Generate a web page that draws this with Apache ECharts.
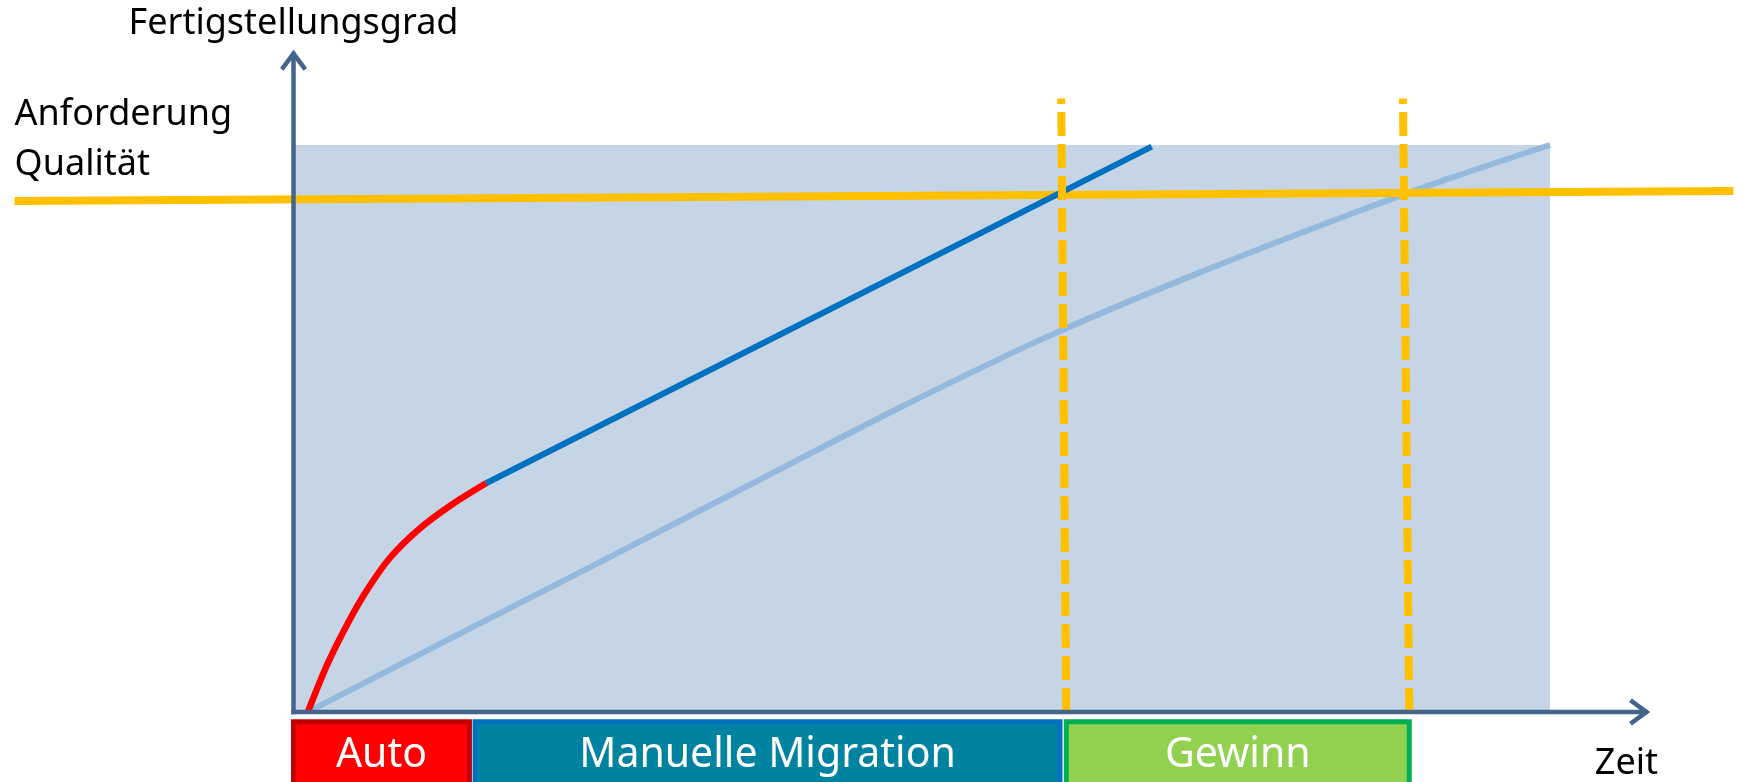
<!DOCTYPE html>
<html>
<head>
<meta charset="utf-8">
<script src="https://cdn.jsdelivr.net/npm/echarts@6/dist/echarts.min.js"></script>
<style>
html,body{margin:0;padding:0;background:#fff;}
#c{width:1743px;height:782px;}
</style>
</head>
<body>
<div id="c"></div>
<script>
// ---- data (x: Zeit, 0..100 = frame; y: Fertigstellungsgrad, 0..100 = frame) ----
const frameX = [0, 100];
const frameY = [0, 100];
const requirementX = [-22.2, 114.6];
const requirementY = [90.1, 91.9];
const autoX = [1.15, 2.67, 4.26, 5.85, 7.68, 10.07, 12.61, 15.32];
const autoY = [0.05, 8.3, 15.4, 21.5, 27.2, 32.4, 36.6, 40.34];
const manualX = [15.32, 68.3];
const manualY = [40.34, 99.7];
const baselineX = [1.5, 12, 24, 36, 48, 60, 72, 84, 92, 100];
const baselineY = [0.4, 12.4, 26.0, 39.7, 53.4, 66.2, 77.4, 87.7, 94.1, 100];
const gate1X = [61.5, 61.1];
const gate2X = [88.8, 88.3];
const gateY = [0, 108.2];
const phaseNames = ['Auto', 'Manuelle Migration', 'Gewinn'];
const phaseStart = [0, 14.45, 61.5];
const phaseEnd = [14.0, 61.0, 88.8];
const phaseFill = ['#FF0000', '#0083A0', '#92D050'];
const phaseStroke = ['#C00000', '#0070C0', '#00B050'];
// axis extents in data units: visible arrow tips and the full view window
const xTip = 108.09;
const yTip = 117.05;
const xView = [-23.36, 115.36];
const yView = [-12.35, 125.57];

const zip = (xs, ys) => xs.map((x, i) => [x, ys[i]]);
const FONT = '"Noto Sans", sans-serif';
const axisColor = '#44648C';
const chevron = 'path://M13,0 L26,20 L22.6,23 L13,8.6 L3.4,23 L0,20 Z';
const ARROW = [27, 23.9];
const ARROW_BACK = 5.7; // px between line end and arrow centre

const chart = echarts.init(document.getElementById('c'));

// line end sits a little behind the tip so the chevron covers it
const xLineEnd = xTip - 6.25 / 12.565;
const yLineEnd = yTip - 6.25 / 5.670;

function axisSeries(points, rotate, offset) {
  return {
    type: 'line', z: 10, silent: true, clip: false, showSymbol: true,
    symbolKeepAspect: true,
    itemStyle: {color: axisColor, opacity: 1},
    lineStyle: {color: axisColor, width: 4.5, cap: 'square'},
    data: [
      {value: points[0], symbol: 'none'},
      {value: points[1], symbol: chevron, symbolSize: ARROW, symbolRotate: rotate, symbolOffset: offset}
    ]
  };
}

const option = {
  animation: false,
  grid: {left: 0, right: 0, top: 0, bottom: 0, containLabel: false, outerBoundsMode: 'none'},
  xAxis: {type: 'value', show: false, min: xView[0], max: xView[1]},
  yAxis: {type: 'value', show: false, min: yView[0], max: yView[1]},
  series: [
    {
      type: 'custom', z: 1, silent: true, clip: false,
      data: [[frameX[0], frameY[0], frameX[1], frameY[1]]],
      renderItem: function (params, api) {
        const p0 = api.coord([api.value(0), api.value(1)]);
        const p1 = api.coord([api.value(2), api.value(3)]);
        return {type: 'rect', shape: {x: p0[0], y: p1[1], width: p1[0] - p0[0], height: p0[1] - p1[1]},
          style: {fill: '#C5D5E6'}};
      }
    },
    {
      type: 'line', z: 3, silent: true, clip: false, showSymbol: false,
      smooth: 0.3,
      data: zip(baselineX, baselineY),
      lineStyle: {color: '#95B9DC', width: 6}
    },
    {
      type: 'line', z: 4, silent: true, clip: false, showSymbol: false,
      data: zip(requirementX, requirementY),
      lineStyle: {color: '#FFC000', width: 8}
    },
    {
      type: 'line', z: 5, silent: true, clip: false, showSymbol: false,
      data: zip(manualX, manualY),
      lineStyle: {color: '#0070C0', width: 6}
    },
    {
      type: 'line', z: 5, silent: true, clip: false, showSymbol: false,
      smooth: 0.3,
      data: zip(autoX, autoY),
      lineStyle: {color: '#FF0000', width: 6.5}
    },
    {
      type: 'line', z: 6, silent: true, clip: false, showSymbol: false,
      data: zip(gate1X, gateY),
      lineStyle: {color: '#FFC000', width: 8, type: [24, 8], cap: 'butt'}
    },
    {
      type: 'line', z: 6, silent: true, clip: false, showSymbol: false,
      data: zip(gate2X, gateY),
      lineStyle: {color: '#FFC000', width: 8, type: [24, 8], cap: 'butt'}
    },
    axisSeries([[0, 0], [xLineEnd, 0]], -90, [-ARROW_BACK, 0]),
    axisSeries([[0, 0], [0, yLineEnd]], 0, [0, ARROW_BACK]),
    {
      type: 'scatter', z: 11, silent: true, clip: false,
      symbolSize: 0, itemStyle: {color: '#000', opacity: 1},
      data: [
        {value: [requirementX[0], requirementY[0]],
          label: {position: 'top', distance: 11.6, align: 'left', formatter: 'Anforderung\nQualität'}},
        {value: [0, yTip],
          label: {position: 'top', distance: 0, align: 'center', formatter: 'Fertigstellungsgrad'}},
        {value: [xTip, 0],
          label: {position: 'bottom', distance: 27, align: 'center', offset: [-25.2, 0], formatter: 'Zeit'}}
      ],
      label: {show: true, fontSize: 36, fontFamily: FONT, color: '#000000', opacity: 1,
        lineHeight: 50, textBorderWidth: 0}
    },
    {
      type: 'custom', z: 3, silent: true, clip: false,
      data: phaseStart.map((s, i) => [s, phaseEnd[i]]),
      renderItem: function (params, api) {
        const i = params.dataIndex;
        const a = api.coord([api.value(0), 0]);
        const b = api.coord([api.value(1), 0]);
        const top = a[1] + 9.8;
        return {type: 'group', children: [
          {type: 'rect', shape: {x: a[0], y: top, width: b[0] - a[0], height: 75},
            style: {fill: phaseFill[i], stroke: phaseStroke[i], lineWidth: 5}},
          {type: 'text', style: {text: phaseNames[i], x: (a[0] + b[0]) / 2, y: top + 33.8,
            fill: '#fff', font: '41px ' + FONT, align: 'center', verticalAlign: 'middle'}}
        ]};
      }
    }
  ]
};
chart.setOption(option);
</script>
</body>
</html>
